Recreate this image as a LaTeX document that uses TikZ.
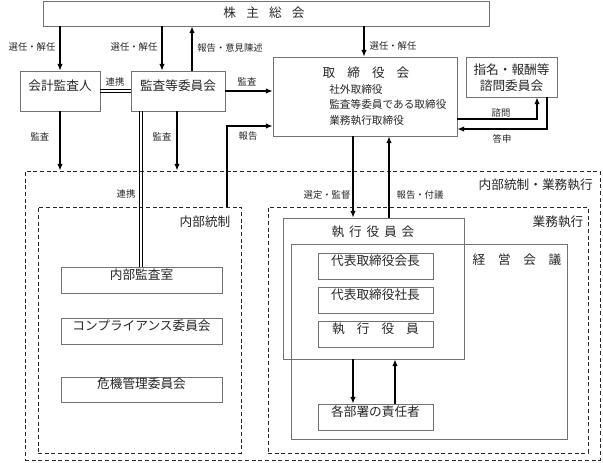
\documentclass[tikz,border=0pt]{standalone}
\usepackage{fontspec}
\setmainfont{Noto Sans CJK JP}
\usetikzlibrary{arrows.meta,fit}
\begin{document}
\begin{tikzpicture}[x=0.75pt,y=-0.75pt,
 box/.style={draw=black!55, line width=0.6pt, inner sep=0pt, text=black!85, font=\fontsize{9.5}{11}\selectfont},
 dbox/.style={draw=black!85, dash pattern=on 3pt off 2pt, line width=0.7pt, inner sep=0pt},
 arr/.style={-{Latex[length=5pt,width=4pt]}, line width=0.8pt},
 lbl/.style={font=\fontsize{7}{8}\selectfont, inner sep=0pt, text=black!85},
 ttl/.style={font=\fontsize{9.5}{11}\selectfont, inner sep=0pt, text=black!85},
 sub/.style={font=\fontsize{8}{9}\selectfont, inner sep=0pt, text=black!85, anchor=west},
 thin line/.style={draw=black, line width=0.6pt}]
\useasboundingbox (0,0) rectangle (603,462);

% boxes
\node[box, fit={(43,1) (489,26)}] (sh) {};
\node[ttl] (shl) at (264,13) {株\hspace{0.8em}主\hspace{0.8em}総\hspace{0.8em}会};
\node[box, fit={(20,71) (100,111)}] (kaikei) {会計監査人};
\node[box, fit={(131,71) (225,111)}] (kansa) {監査等委員会};
\node[box, fit={(273,57) (457,136)}] (tori) {};
\node[ttl] (toril) at (366,73) {取\hspace{0.95em}締\hspace{0.95em}役\hspace{0.95em}会};
\node[sub] (t1) at (329,89) {社外取締役};
\node[sub] (t2) at (329,104) {監査等委員である取締役};
\node[sub] (t3) at (329,121) {業務執行取締役};
\node[box, fit={(466,57) (557,97)}] (shimei) {};
\node[ttl, align=center] (shimeil) at (511.5,78) {指名・報酬等\\[1pt]諮問委員会};

\node[dbox, fit={(25,171) (600,460)}] (outer) {};
\node[dbox, fit={(38,207) (241,453)}] (naibu) {};
\node[dbox, fit={(268,207) (588,453)}] (gyomu) {};
\node[ttl, anchor=east] (outerl) at (593,185) {内部統制・業務執行};
\node[ttl] (naibul) at (205,222) {内部統制};
\node[ttl] (gyomul) at (558,222) {業務執行};

\node[box, fit={(61,267) (222,293)}] (nks) {内部監査室};
\node[box, fit={(61,318) (222,344)}] (comp) {コンプライアンス委員会};
\node[box, fit={(61,377) (222,402)}] (kiki) {危機管理委員会};

\node[box, fit={(283,218) (464,359)}] (shikko) {};
\node[ttl] (shikkol) at (373,232) {執\hspace{0.38em}行\hspace{0.38em}役\hspace{0.38em}員\hspace{0.38em}会};
\node[box, fit={(291,244) (567,439)}] (keiei) {};
\node[ttl] (keieil) at (517,260) {経\hspace{1em}営\hspace{1em}会\hspace{1em}議};
\node[box, fit={(318,253) (433,279)}] (d1) {代表取締役会長};
\node[box, fit={(318,287) (433,313)}] (d2) {代表取締役社長};
\node[box, fit={(318,321) (433,347)}] (d3) {執\hspace{0.95em}行\hspace{0.95em}役\hspace{0.95em}員};
\node[box, fit={(318,404) (433,430)}] (kaku) {各部署の責任者};

% helper coordinates
\coordinate (c140) at (139.8,0);
\coordinate (c142) at (142.2,0);
\coordinate (c162) at (162,0);
\coordinate (c177) at (177,0);
\coordinate (c192) at (192,0);
\coordinate (c227) at (227,0);
\coordinate (c353) at (353,0);
\coordinate (c364) at (364,0);
\coordinate (c389) at (389,0);
\coordinate (c395) at (395,0);
\coordinate (c537) at (537,0);
\coordinate (c547) at (547,0);
\coordinate (y90) at (0,89.8);
\coordinate (y92) at (0,92.2);
\coordinate (y91) at (0,91);
\coordinate (y126) at (0,126);
\coordinate (y119) at (0,119);
\coordinate (y129) at (0,129);

% connectors
\draw[arr] (kaikei.north |- sh.south) -- (kaikei.north);
\draw[arr] (sh.south -| c162) -- (kansa.north -| c162);
\draw[arr] (kansa.north -| c192) -- (sh.south -| c192);
\draw[arr] (sh.south -| c364) -- (tori.north -| c364);
\draw[thin line] (kaikei.east |- y90) -- (kansa.west |- y90);
\draw[thin line] (kaikei.east |- y92) -- (kansa.west |- y92);
\draw[arr] (kansa.east |- y91) -- (tori.west |- y91);
\draw[arr] (naibu.north -| c227) -- (c227 |- y126) -- (tori.west |- y126);
\draw[arr] (kaikei.south) -- (kaikei.south |- outer.north);
\draw[arr] (kansa.south -| c177) -- (outer.north -| c177);
\draw[thin line] (kansa.south -| c140) -- (nks.north -| c140);
\draw[thin line] (kansa.south -| c142) -- (nks.north -| c142);
\draw[arr] (tori.south -| c353) -- (shikko.north -| c353);
\draw[arr] (shikko.north -| c389) -- (tori.south -| c389);
\draw[arr] (tori.east |- y119) -- (c537 |- y119) -- (shimei.south -| c537);
\draw[arr] (shimei.south -| c547) -- (c547 |- y129) -- (tori.east |- y129);
\draw[arr] (shikko.south -| c353) -- (kaku.north -| c353);
\draw[arr] (kaku.north -| c395) -- (shikko.south -| c395);

% labels
\node[lbl] (l1) at (32,47) {選任・解任};
\node[lbl] (l2) at (134,47) {選任・解任};
\node[lbl] (l3) at (230,48) {報告・意見陳述};
\node[lbl] (l4) at (393,46) {選任・解任};
\node[lbl] (l5) at (115,82) {連携};
\node[lbl] (l6) at (247,82) {監査};
\node[lbl] (l7) at (248,136) {報告};
\node[lbl] (l8) at (40,137) {監査};
\node[lbl] (l9) at (162,137) {監査};
\node[lbl] (l10) at (126,194) {連携};
\node[lbl] (l11) at (327,195) {選定・監督};
\node[lbl] (l12) at (420,195) {報告・付議};
\node[lbl] (l13) at (501,113) {諮問};
\node[lbl] (l14) at (502,139) {答申};
\end{tikzpicture}
\end{document}
